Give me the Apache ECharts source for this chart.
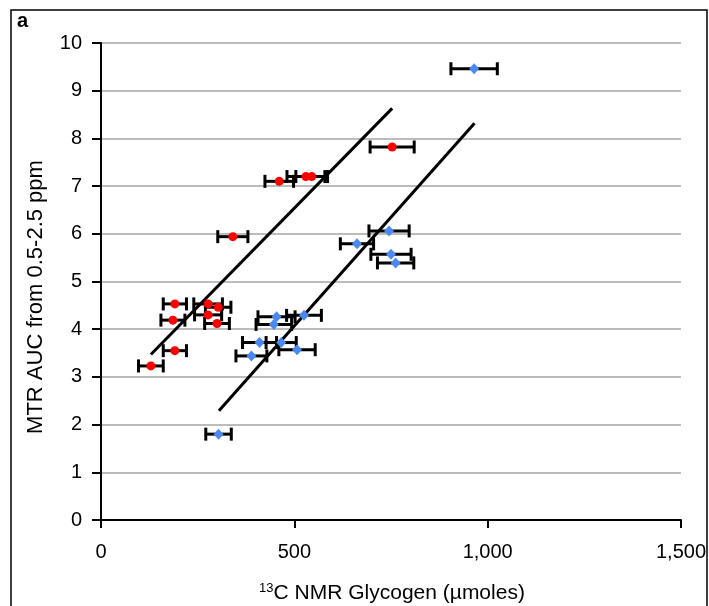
<!DOCTYPE html>
<html>
<head>
<meta charset="utf-8">
<script src="https://cdn.jsdelivr.net/npm/echarts@6/dist/echarts.min.js"></script>
<style>
html,body{margin:0;padding:0;background:#fff;}
#chart{width:709px;height:606px;}
</style>
</head>
<body>
<div id="chart"></div>
<script>
// Red group (glycogen vs MTR AUC)
const redX   = [129, 191, 191, 186, 277, 303, 277, 300, 341, 461, 530, 545, 753];
const redY   = [3.23, 3.55, 4.53, 4.19, 4.53, 4.46, 4.30, 4.12, 5.94, 7.10, 7.20, 7.20, 7.82];
const redErr = [32, 30, 30, 31, 37, 33, 35, 32, 39, 37, 49, 41, 57];
// Blue group
const blueX   = [304, 389, 410, 466, 507, 454, 447, 525, 662, 745, 750, 762, 965];
const blueY   = [1.80, 3.44, 3.72, 3.72, 3.57, 4.26, 4.10, 4.29, 5.79, 6.06, 5.57, 5.39, 9.46];
const blueErr = [33, 40, 44, 39, 47, 48, 46, 45, 43, 52, 52, 47, 60];
// Trend lines (endpoints)
const redLineX  = [129, 753];
const redLineY  = [3.47, 8.63];
const blueLineX = [305, 966];
const blueLineY = [2.29, 8.32];
// Axis ticks
const xTicks = [0, 500, 1000, 1500];
const yTicks = [0, 1, 2, 3, 4, 5, 6, 7, 8, 9, 10];

const zip = (a, b) => a.map((v, i) => [v, b[i]]);
const zip3 = (a, b, c) => a.map((v, i) => [v, b[i], c[i]]);

function errRender(params, api) {
  const x = api.value(0), y = api.value(1), e = api.value(2);
  const lo = api.coord([x - e, y]);
  const hi = api.coord([x + e, y]);
  const cap = 6.5;
  const st = {stroke: '#000', lineWidth: 3};
  return {
    type: 'group',
    children: [
      {type: 'line', shape: {x1: lo[0], y1: lo[1], x2: hi[0], y2: hi[1]}, style: st},
      {type: 'line', shape: {x1: lo[0], y1: lo[1] - cap, x2: lo[0], y2: lo[1] + cap}, style: st},
      {type: 'line', shape: {x1: hi[0], y1: hi[1] - cap, x2: hi[0], y2: hi[1] + cap}, style: st}
    ]
  };
}

const chart = echarts.init(document.getElementById('chart'));
const font = '"Liberation Sans", Arial, sans-serif';
chart.setOption({
  animation: false,
  backgroundColor: '#fff',
  grid: {left: 101, top: 43, right: 27, bottom: 86, containLabel: false},
  xAxis: {
    type: 'value', min: xTicks[0], max: xTicks[xTicks.length - 1], interval: 500,
    axisLine: {show: true, lineStyle: {color: '#000', width: 2}},
    axisTick: {show: true, inside: false, length: 8, lineStyle: {color: '#000', width: 2}},
    splitLine: {show: false},
    axisLabel: {color: '#000', fontSize: 20, fontFamily: font, margin: 22,
      formatter: v => v.toLocaleString('en-US')}
  },
  yAxis: {
    type: 'value', min: yTicks[0], max: yTicks[yTicks.length - 1], interval: 1,
    axisLine: {show: true, lineStyle: {color: '#000', width: 2}},
    axisTick: {show: true, inside: false, length: 9, lineStyle: {color: '#000', width: 2}},
    splitLine: {show: true, lineStyle: {color: '#a6a6a6', width: 1.5}},
    axisLabel: {color: '#000', fontSize: 20, fontFamily: font, margin: 19}
  },
  graphic: [
    {type: 'rect', shape: {x: 11, y: 10, width: 696, height: 620},
     style: {fill: 'none', stroke: '#000', lineWidth: 1.5}, z: 100},
    {type: 'text', left: 17, top: 11,
     style: {text: 'a', font: 'bold 20px ' + font, fill: '#000'}},
    {type: 'text', x: 36, y: 297, rotation: Math.PI / 2,
     style: {text: 'MTR AUC from 0.5-2.5 ppm', font: '22px ' + font, fill: '#000',
       textAlign: 'center', textVerticalAlign: 'middle'}},
    {type: 'text', x: 392, y: 593,
     style: {text: '{s|13}C NMR Glycogen (µmoles)', font: '21px ' + font, fill: '#000',
       textAlign: 'center', textVerticalAlign: 'middle',
       rich: {s: {fontSize: 13, fontFamily: font, verticalAlign: 'top', padding: [0, 0, 9, 0]}}}}
  ],
  series: [
    {type: 'line', data: zip(redLineX, redLineY), symbol: 'none',
     lineStyle: {color: '#000', width: 3}, z: 3},
    {type: 'line', data: zip(blueLineX, blueLineY), symbol: 'none',
     lineStyle: {color: '#000', width: 3}, z: 3},
    {type: 'custom', renderItem: errRender, data: zip3(redX, redY, redErr), z: 4},
    {type: 'custom', renderItem: errRender, data: zip3(blueX, blueY, blueErr), z: 4},
    {type: 'scatter', data: zip(redX, redY), symbol: 'circle', symbolSize: 9,
     itemStyle: {color: '#ff0000', opacity: 1}, z: 5},
    {type: 'scatter', data: zip(blueX, blueY), symbol: 'diamond', symbolSize: [10, 11],
     itemStyle: {color: '#4a8af0', opacity: 1}, z: 5}
  ]
});
</script>
</body>
</html>
